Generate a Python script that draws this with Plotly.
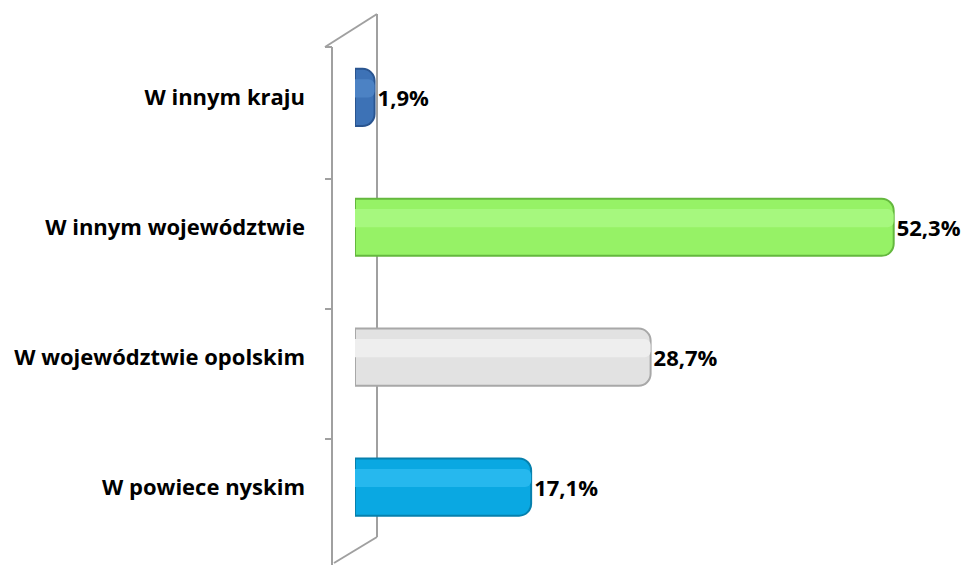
import plotly.graph_objects as go

categories = ["W powiece nyskim", "W województwie opolskim", "W innym województwie", "W innym kraju"]
values = [17.1, 28.7, 52.3, 1.9]
labels = ["17,1%", "28,7%", "52,3%", "1,9%"]
colors = ["#0aa8e2", "#e2e2e2", "#96f266", "#3d72b6"]
edge_colors = ["#0680ad", "#a8a8a8", "#64b83e", "#2a5590"]
highlight = ["#26b8ee", "#eeeeee", "#a6f87e", "#4c82c4"]

W, H = 971, 565
FONT = "Open Sans"
ZERO_PX, SCALE = 355, 10.3

fig = go.Figure()
fig.add_trace(go.Bar(
    y=categories, x=values, orientation="h",
    marker=dict(color=colors, line=dict(color=edge_colors, width=2), cornerradius=12),
    width=0.44,
    text=labels, textposition="outside", cliponaxis=False,
    textfont=dict(family=FONT, size=22, color="#000000", weight="bold"),
    hoverinfo="skip",
))
fig.add_trace(go.Bar(
    y=categories, x=values, orientation="h",
    marker=dict(color=highlight, line=dict(width=0), cornerradius=6),
    width=0.14, offset=0.0,
    hoverinfo="skip",
))

def px(x):
    return x / W

def py(y):
    return 1 - y / H

line = dict(color="#a0a0a0", width=2)
shapes = [
    dict(type="line", xref="paper", yref="paper", x0=px(332), y0=py(47), x1=px(332), y1=py(565), line=line, layer="below"),
    dict(type="line", xref="paper", yref="paper", x0=px(377), y0=py(14), x1=px(377), y1=py(537), line=line, layer="below"),
    dict(type="line", xref="paper", yref="paper", x0=px(325), y0=py(47), x1=px(377), y1=py(14), line=line, layer="below"),
    dict(type="line", xref="paper", yref="paper", x0=px(334), y0=py(563), x1=px(377), y1=py(537), line=line, layer="below"),
]
for ty in [47, 179, 309, 439]:
    shapes.append(dict(type="line", xref="paper", yref="paper", x0=px(325), y0=py(ty), x1=px(332), y1=py(ty), line=line, layer="below"))

fig.update_layout(
    width=W, height=H,
    margin=dict(l=0, r=0, t=0, b=0),
    paper_bgcolor="white", plot_bgcolor="rgba(0,0,0,0)",
    showlegend=False, barmode="overlay",
    shapes=shapes,
    xaxis=dict(domain=[ZERO_PX / W, 1], range=[0, (W - ZERO_PX) / SCALE], visible=False),
    yaxis=dict(type="category", categoryorder="array", categoryarray=categories,
               range=[-0.6, 3.75], showgrid=False, zeroline=False, showline=False,
               ticks="", ticklabelstandoff=ZERO_PX - 306, automargin=False,
               tickfont=dict(family=FONT, size=22, color="#000000", weight="bold")),
)
fig.write_html("out.html", config={"displayModeBar": False},
               post_script="document.body.style.margin='0';document.body.style.padding='0';")
